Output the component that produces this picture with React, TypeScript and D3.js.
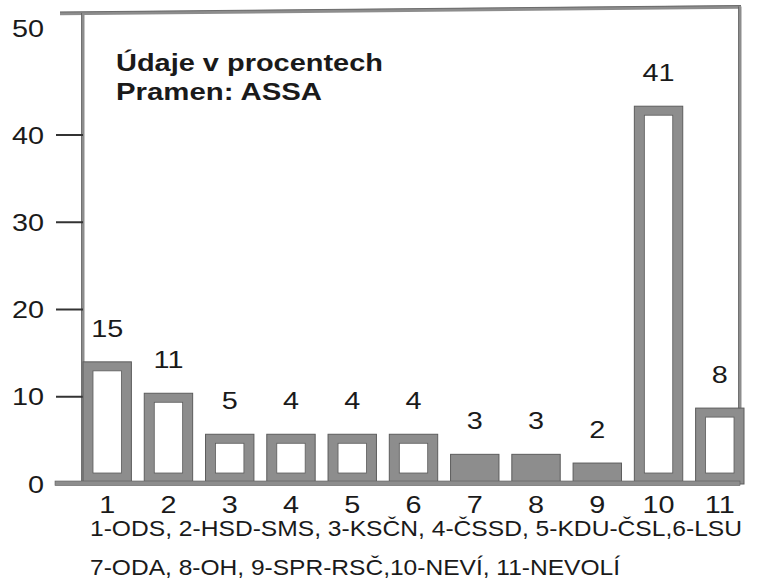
import React from "react";
import * as d3 from "d3";

// ---- data ----
const categories = ["1", "2", "3", "4", "5", "6", "7", "8", "9", "10", "11"];
// printed value labels
const valueLabels = ["15", "11", "5", "4", "4", "4", "3", "3", "2", "41", "8"];
// bar heights as drawn (in axis units)
const barHeights = [14.0, 10.4, 5.7, 5.7, 5.7, 5.7, 3.4, 3.4, 2.4, 43.3, 8.7];
const yTicks = [0, 10, 20, 30, 40, 50];
const titleLines = ["Údaje v procentech", "Pramen: ASSA"];
const legendLines = [
  "1-ODS, 2-HSD-SMS, 3-KSČN, 4-ČSSD, 5-KDU-ČSL,6-LSU",
  "7-ODA,  8-OH, 9-SPR-RSČ,10-NEVÍ, 11-NEVOLÍ",
];

const W = 757;
const H = 580;
const FONT = "'Liberation Sans', Arial, Helvetica, sans-serif";
const GRAY = "#8d8d8d";
const EDGE = "#5c5c5c";
const INK = "#1a1a1a";

function StretchText({ x, y, sx = 1.2, anchor = "middle", size = 24, weight = 400, children }: any) {
  return (
    <text
      transform={`translate(${x},${y}) scale(${sx},1)`}
      textAnchor={anchor}
      fontSize={size}
      fontWeight={weight}
      fontFamily={FONT}
      fill={INK}
    >
      {children}
    </text>
  );
}

export default function App() {
  const y = d3.scaleLinear().domain([0, 40]).range([484, 135]);
  const x = d3.scaleBand<string>().domain(categories).range([83, 744]).paddingInner(0.21).paddingOuter(0);
  const bw = x.bandwidth();
  const base = y(0);
  const frameLeft = 83;
  const frameRight = 740;

  return (
    <svg width={W} height={H} style={{ position: "absolute", left: 0, top: 0, background: "#fff" }}>
      <rect x={0} y={0} width={W} height={H} fill="#fff" />

      {/* frame */}
      <line x1={60} y1={13.5} x2={frameRight + 1} y2={7} stroke={GRAY} strokeWidth={3.5} />
      <line x1={60} y1={12} x2={frameRight + 1} y2={5.5} stroke={EDGE} strokeWidth={0.8} />
      <line x1={frameLeft} y1={13} x2={frameLeft} y2={base} stroke={GRAY} strokeWidth={3} />
      <line x1={frameLeft - 1.5} y1={13} x2={frameLeft - 1.5} y2={base} stroke={EDGE} strokeWidth={0.8} />
      <line x1={frameRight} y1={6.5} x2={frameRight} y2={base} stroke={GRAY} strokeWidth={3} />
      <line x1={frameRight - 1.5} y1={6.5} x2={frameRight - 1.5} y2={base} stroke={EDGE} strokeWidth={0.8} />

      {/* y ticks */}
      {yTicks.map((t) => (
        <g key={t}>
          {t < 50 && (
            <line x1={56} x2={frameLeft} y1={y(t)} y2={y(t)} stroke="#333" strokeWidth={2} />
          )}
          <StretchText x={44} y={(t === 50 ? y(t) - 19 : y(t)) + 8.5} anchor="end">
            {t}
          </StretchText>
        </g>
      ))}

      {/* bars */}
      {categories.map((c, i) => {
        const x0 = x(c)!;
        const top = y(barHeights[i]);
        const innerTop = top + 9;
        const innerBottom = base - 11;
        const showInner = innerBottom - innerTop > 15;
        return (
          <g key={c}>
            <rect x={x0} y={top} width={bw} height={base - top} fill={GRAY} stroke={EDGE} strokeWidth={1} />
            {showInner && (
              <rect
                x={x0 + 10}
                y={innerTop}
                width={bw - 20}
                height={innerBottom - innerTop}
                fill="#fff"
                stroke={EDGE}
                strokeWidth={0.8}
              />
            )}
          </g>
        );
      })}

      {/* baseline */}
      <rect x={55} y={base - 3} width={frameRight - 55} height={4.5} fill={GRAY} stroke={EDGE} strokeWidth={0.6} />

      {/* value labels */}
      {categories.map((c, i) => (
        <StretchText key={c} x={x(c)! + bw / 2} y={y(barHeights[i]) - 25}>
          {valueLabels[i]}
        </StretchText>
      ))}

      {/* x tick labels */}
      {categories.map((c) => (
        <StretchText key={c} x={x(c)! + bw / 2} y={513}>
          {c}
        </StretchText>
      ))}

      {/* title */}
      <text x={116} y={71} fontFamily={FONT} fontWeight={700} fontSize={24} fill={INK} textLength={267} lengthAdjust="spacingAndGlyphs">
        {titleLines[0]}
      </text>
      <text x={116} y={100} fontFamily={FONT} fontWeight={700} fontSize={24} fill={INK} textLength={206} lengthAdjust="spacingAndGlyphs">
        {titleLines[1]}
      </text>

      {/* legend */}
      <text x={90} y={536} fontFamily={FONT} fontSize={22} fill={INK} textLength={652} lengthAdjust="spacingAndGlyphs">
        {legendLines[0]}
      </text>
      <text x={90} y={575} fontFamily={FONT} fontSize={22} fill={INK} textLength={530} lengthAdjust="spacingAndGlyphs">
        {legendLines[1]}
      </text>
    </svg>
  );
}
